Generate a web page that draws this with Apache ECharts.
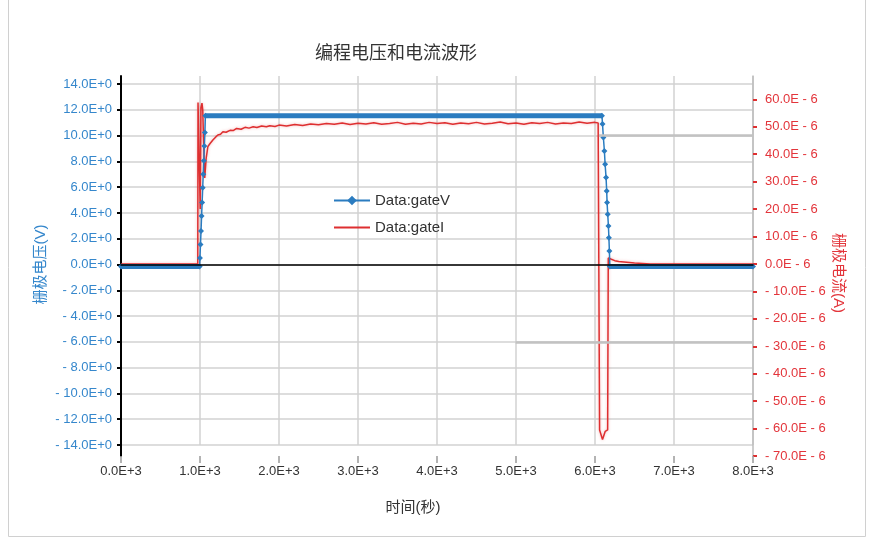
<!DOCTYPE html>
<html>
<head>
<meta charset="utf-8">
<title>编程电压和电流波形</title>
<script src="https://cdn.jsdelivr.net/npm/echarts@6/dist/echarts.min.js"></script>
<style>
  html, body { margin: 0; padding: 0; background: #fff; }
  #chart { width: 874px; height: 538px; }
</style>
</head>
<body>
<div id="chart"></div>
<script>
// 栅极电压 gateV (s, V)
const vTime = [0, 995, 999, 1006, 1013, 1020, 1027, 1034, 1041, 1048, 1055, 1062, 1068,
  6088, 6095, 6106, 6119, 6128, 6140, 6148, 6153, 6161, 6170, 6176, 6182, 6188, 8000]
const vValue = [-0.15, -0.15, 0.51, 1.56, 2.59, 3.76, 4.8, 5.96, 7.0, 8.04, 9.2, 10.24, 11.54,
  11.54, 10.9, 9.85, 8.8, 7.78, 6.74, 5.7, 4.8, 3.9, 2.98, 2.07, 1.04, -0.15, -0.15]
// the flat levels of gateV look like a thick band (dense markers)
const bandTime = [0, 995, 1030, 1066, 6090, 6140, 6186, 8000]
const bandValue = [-0.15, -0.15, null, 11.54, 11.54, null, -0.15, -0.15]

// 栅极电流 gateI (s, 1E-6 A)
const iTime = [0, 972, 975, 990, 998, 1003, 1012, 1025, 1035, 1045, 1060, 1078, 1100, 1130, 1163,
  1200, 1226, 1260, 1290, 1330, 1380, 1420, 1463, 1520, 1570, 1620, 1673, 1720, 1780, 1840,
  1884, 1950, 2000, 2095, 2200, 2300, 2400, 2500, 2600, 2700, 2800, 2900, 3000, 3100, 3200,
  3300, 3400, 3500, 3600, 3700, 3800, 3900, 4000, 4100, 4200, 4300, 4400, 4500, 4600, 4700,
  4800, 4900, 5000, 5100, 5200, 5300, 5400, 5500, 5600, 5700, 5800, 5900, 6000, 6040, 6052,
  6058, 6095, 6130, 6160, 6168, 6200, 6250, 6300, 6400, 6500, 6600, 6700, 8000]
const iValue = [0, 0, 58.8, 58.6, 58.5, 20, 57, 58.6, 56, 45, 31.3, 38.5, 42.8, 44.0, 45.2,
  46.3, 47.0, 47.3, 48.2, 48.0, 48.7, 48.6, 49.4, 49.1, 49.8, 49.5, 50.0, 49.7, 50.3, 50.0,
  50.4, 50.1, 50.6, 50.3, 50.8, 50.5, 51.0, 50.7, 51.2, 50.9, 51.4, 50.8, 51.3, 51.0, 51.5,
  50.9, 51.2, 51.6, 50.9, 51.3, 51.0, 51.6, 51.2, 51.5, 50.9, 51.4, 51.1, 51.6, 51.0, 51.3,
  51.7, 51.1, 51.4, 50.9, 51.5, 51.2, 51.6, 51.0, 51.4, 51.2, 51.7, 51.3, 51.6, 51.4, 51.2,
  -60.5, -64.0, -61.0, -60.5, 2.2, 1.8, 1.2, 0.9, 0.6, 0.3, 0.2, 0, 0]

// tick labels
const xTickLabels = ['0.0E+3', '1.0E+3', '2.0E+3', '3.0E+3', '4.0E+3', '5.0E+3', '6.0E+3', '7.0E+3', '8.0E+3']
const vTickLabels = ['- 14.0E+0', '- 12.0E+0', '- 10.0E+0', '- 8.0E+0', '- 6.0E+0', '- 4.0E+0', '- 2.0E+0',
  '0.0E+0', '2.0E+0', '4.0E+0', '6.0E+0', '8.0E+0', '10.0E+0', '12.0E+0', '14.0E+0']
const iTickValues = [-70, -60, -50, -40, -30, -20, -10, 0, 10, 20, 30, 40, 50, 60]
const iTickLabels = ['- 70.0E - 6', '- 60.0E - 6', '- 50.0E - 6', '- 40.0E - 6', '- 30.0E - 6', '- 20.0E - 6',
  '- 10.0E - 6', '0.0E - 6', '10.0E - 6', '20.0E - 6', '30.0E - 6', '40.0E - 6', '50.0E - 6', '60.0E - 6']

const BLUE = '#2b7cc0'
const BLUE_TXT = '#3587cc'
const RED = '#de2f30'
const RED_TXT = '#e3353b'
const GRID = '#d2d2d2'
const FONT = "'Liberation Sans', 'Noto Sans CJK SC', sans-serif"

const pairs = (xs, ys) => xs.map((x, i) => [x, ys[i]])

const chart = echarts.init(document.getElementById('chart'))
chart.setOption({
  animation: false,
  textStyle: { fontFamily: FONT },
  title: {
    text: '编程电压和电流波形',
    left: 310,
    top: 40,
    textStyle: { fontSize: 18, fontWeight: 'normal', color: '#333', fontFamily: FONT }
  },
  legend: {
    data: [
      { name: 'Data:gateV' },
      { name: 'Data:gateI', itemStyle: { opacity: 0 } }
    ],
    orient: 'vertical',
    left: 328,
    top: 188,
    itemWidth: 36,
    itemHeight: 12,
    itemGap: 12,
    textStyle: { fontSize: 15, color: '#333' }
  },
  graphic: [{
    type: 'rect',
    shape: { x: 8.5, y: -1, width: 857, height: 537.5 },
    style: { fill: 'none', stroke: '#d0d0d0', lineWidth: 1 },
    silent: true
  }],
  grid: [
    // voltage grid: -14..14 V
    { left: 121, right: 121, top: 84, bottom: 93 },
    // current grid: -70..68.5 uA, also carries the time axis
    { left: 121, right: 121, top: 76, bottom: 82 },
    // vertical grid lines only
    { left: 121, right: 121, top: 76, bottom: 93 }
  ],
  xAxis: [
    {
      gridIndex: 0, type: 'value', min: 0, max: 8000, z: 10,
      axisLine: { onZero: true, lineStyle: { color: '#000', width: 1.5 } },
      axisTick: { show: false }, axisLabel: { show: false }, splitLine: { show: false }
    },
    {
      gridIndex: 1, type: 'value', min: 0, max: 8000, interval: 1000,
      axisLine: { show: false, onZero: false },
      axisTick: { show: true, length: 7, lineStyle: { color: '#9a9a9a', width: 1.5 } },
      axisLabel: {
        color: '#333', fontSize: 13, margin: 9,
        formatter: v => xTickLabels[Math.round(v / 1000)]
      },
      splitLine: { show: false },
      name: '时间(秒)', nameLocation: 'middle', nameGap: 44,
      nameTextStyle: { fontSize: 15, color: '#333', padding: [0, 48, 0, 0] }
    },
    {
      gridIndex: 2, type: 'value', min: 0, max: 8000, interval: 1000,
      axisLine: { show: false, onZero: false }, axisTick: { show: false }, axisLabel: { show: false },
      splitLine: { show: true, lineStyle: { color: GRID, width: 1.5 } }
    }
  ],
  yAxis: [
    {
      gridIndex: 0, type: 'value', position: 'left', min: -14, max: 14, interval: 2,
      axisLine: { show: false, onZero: false },
      axisTick: { show: true, length: 4, lineStyle: { color: '#000', width: 2 } },
      axisLabel: {
        color: BLUE_TXT, fontSize: 13, margin: 9,
        formatter: v => vTickLabels[Math.round((v + 14) / 2)]
      },
      splitLine: { show: true, lineStyle: { color: GRID, width: 1.5 } },
      name: '栅极电压(V)', nameLocation: 'middle', nameGap: 73, nameRotate: 90,
      nameMoveOverlap: false,
      nameTextStyle: { color: BLUE_TXT, fontSize: 15 }
    },
    {
      gridIndex: 1, type: 'value', position: 'right', min: -70, max: 68.5, interval: 10,
      axisLine: { show: true, onZero: false, lineStyle: { color: '#bdbdbd', width: 1.5 } },
      axisTick: { show: true, length: 4, customValues: iTickValues, lineStyle: { color: RED, width: 2 } },
      axisLabel: {
        color: RED_TXT, fontSize: 13, margin: 12, customValues: iTickValues,
        formatter: v => iTickLabels[Math.round((v + 70) / 10)]
      },
      splitLine: { show: false },
      name: '栅极电流(A)', nameLocation: 'middle', nameGap: 78, nameRotate: -90,
      nameMoveOverlap: false,
      nameTextStyle: { color: RED_TXT, fontSize: 15, padding: [0, 0, 0, 14] }
    },
    {
      gridIndex: 1, type: 'value', position: 'left', min: -70, max: 68.5,
      axisLine: { show: true, onZero: false, lineStyle: { color: '#000', width: 2 } },
      axisTick: { show: false }, axisLabel: { show: false }, splitLine: { show: false }
    },
    {
      gridIndex: 2, type: 'value', min: -14, max: 14, show: false
    }
  ],
  series: [
    {
      name: 'Data:gateV', type: 'line', xAxisIndex: 0, yAxisIndex: 0, z: 4,
      data: pairs(vTime, vValue),
      symbol: 'diamond', symbolSize: 6, showSymbol: true, showAllSymbol: true,
      itemStyle: { color: BLUE },
      lineStyle: { color: BLUE, width: 1.5 }
    },
    {
      name: 'Data:gateV', type: 'line', xAxisIndex: 0, yAxisIndex: 0, z: 3,
      data: pairs(bandTime, bandValue),
      symbol: 'none', connectNulls: false,
      itemStyle: { color: BLUE },
      lineStyle: { color: BLUE, width: 5 },
      markLine: {
        silent: true, symbol: 'none', label: { show: false },
        lineStyle: { color: '#c2c2c2', width: 2.5, type: 'solid' },
        data: [
          [{ coord: [6050, 10] }, { coord: [8000, 10] }],
          [{ coord: [4995, -6] }, { coord: [8000, -6] }]
        ]
      }
    },
    {
      name: 'Data:gateI', type: 'line', xAxisIndex: 1, yAxisIndex: 1, z: 2,
      data: pairs(iTime, iValue),
      symbol: 'none',
      itemStyle: { color: RED },
      lineStyle: { color: RED, width: 1.5, shadowBlur: 3, shadowColor: 'rgba(222,47,48,0.35)' }
    }
  ]
})
</script>
</body>
</html>
